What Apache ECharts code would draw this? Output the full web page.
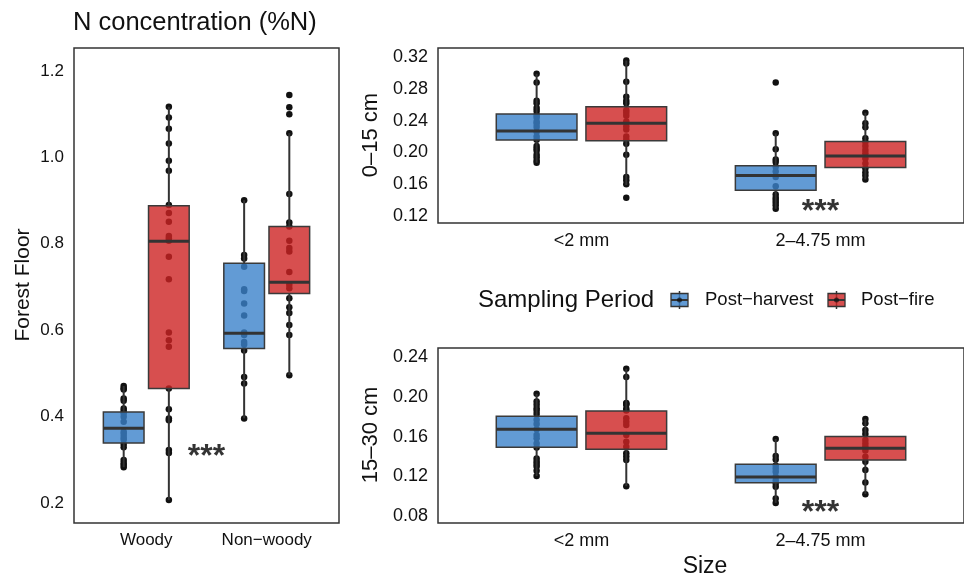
<!DOCTYPE html>
<html><head><meta charset="utf-8">
<script src="https://cdn.jsdelivr.net/npm/echarts@6/dist/echarts.min.js"></script>
<style>html,body{margin:0;padding:0;background:#fff}#c{width:964px;height:577px}</style>
</head><body><div id="c"></div>
<script>
// ---------------- data ----------------
const periods = ['Post−harvest', 'Post−fire'];
const ffCategories = ['Woody', 'Non−woody'];
const sizeCategories = ['<2 mm', '2–4.75 mm'];

const ffTicks = [0.2, 0.4, 0.6, 0.8, 1.0, 1.2];
const topTicks = [0.12, 0.16, 0.20, 0.24, 0.28, 0.32];
const botTicks = [0.08, 0.12, 0.16, 0.20, 0.24];

// box stats: [min, Q1, median, Q3, max] per category
const ffHarvestBox = [[0.283, 0.339, 0.373, 0.411, 0.471], [0.396, 0.558, 0.593, 0.755, 0.901]];
const ffFireBox    = [[0.207, 0.465, 0.806, 0.888, 1.117], [0.496, 0.685, 0.711, 0.840, 1.056]];
const topHarvestBox = [[0.187, 0.2156, 0.227, 0.2484, 0.299], [0.129, 0.1525, 0.171, 0.1831, 0.224]];
const topFireBox    = [[0.159, 0.2147, 0.2367, 0.2576, 0.3157], [0.166, 0.181, 0.1954, 0.2139, 0.250]];
const botHarvestBox = [[0.1203, 0.1493, 0.1674, 0.1805, 0.203], [0.0934, 0.1136, 0.1193, 0.1321, 0.1576]];
const botFireBox    = [[0.1102, 0.1472, 0.1633, 0.1858, 0.2282], [0.1022, 0.1365, 0.1482, 0.160, 0.1778]];

// individual observations per category
const ffHarvestWoody = [0.471, 0.466, 0.463, 0.442, 0.437, 0.419, 0.413, 0.408, 0.400, 0.388, 0.365, 0.360, 0.353, 0.347, 0.337, 0.329, 0.300, 0.293, 0.288, 0.283];
const ffHarvestNonWoody = [0.901, 0.774, 0.766, 0.747, 0.695, 0.691, 0.662, 0.634, 0.595, 0.589, 0.573, 0.567, 0.553, 0.492, 0.477, 0.396];
const ffFireWoody = [1.117, 1.092, 1.066, 1.032, 0.992, 0.969, 0.890, 0.871, 0.851, 0.818, 0.813, 0.807, 0.770, 0.718, 0.595, 0.577, 0.562, 0.465, 0.417, 0.396, 0.392, 0.323, 0.316, 0.207];
const ffFireNonWoody = [1.144, 1.116, 1.100, 1.056, 0.915, 0.849, 0.840, 0.807, 0.790, 0.782, 0.735, 0.705, 0.697, 0.674, 0.653, 0.640, 0.612, 0.589, 0.496];

const topHarvestFine = [0.299, 0.288, 0.265, 0.262, 0.256, 0.252, 0.247, 0.244, 0.239, 0.236, 0.232, 0.226, 0.220, 0.216, 0.208, 0.205, 0.202, 0.197, 0.194, 0.190, 0.187];
const topHarvestCoarse = [0.288, 0.224, 0.204, 0.191, 0.188, 0.182, 0.176, 0.169, 0.1575, 0.147, 0.143, 0.140, 0.137, 0.1335, 0.129];
const topFireFine = [0.3157, 0.312, 0.289, 0.270, 0.265, 0.262, 0.253, 0.250, 0.246, 0.239, 0.233, 0.229, 0.220, 0.216, 0.211, 0.197, 0.169, 0.165, 0.160, 0.143];
const topFireCoarse = [0.250, 0.2367, 0.2316, 0.2177, 0.213, 0.208, 0.203, 0.199, 0.1925, 0.186, 0.180, 0.175, 0.171, 0.166];

const botHarvestFine = [0.203, 0.1952, 0.192, 0.1886, 0.186, 0.1828, 0.1768, 0.1727, 0.1674, 0.1617, 0.1583, 0.153, 0.149, 0.138, 0.135, 0.1324, 0.130, 0.1257, 0.1203];
const botHarvestCoarse = [0.1576, 0.1405, 0.1371, 0.131, 0.128, 0.1247, 0.1196, 0.116, 0.113, 0.1096, 0.0978, 0.0934];
const botFireFine = [0.2282, 0.2198, 0.1937, 0.193, 0.1919, 0.188, 0.1862, 0.1785, 0.175, 0.1717, 0.1617, 0.1549, 0.1499, 0.1432, 0.140, 0.1365, 0.1102];
const botFireCoarse = [0.1778, 0.1734, 0.1667, 0.1627, 0.1566, 0.153, 0.1499, 0.146, 0.1398, 0.1347, 0.1264, 0.114, 0.1022];

// significance annotations [x position (category scale), y value]
const ffSig = [[1.5, 0.319]];
const topSig = [[2.0, 0.131]];
const botSig = [[2.0, 0.088]];

// ---------------- styling / layout ----------------
const FONT = '"Liberation Sans", Arial, Helvetica, sans-serif';
const TXT = '#111';
const EDGE = '#333';
const FILLS = ['rgba(59,130,203,0.8)', 'rgba(205,35,35,0.8)'];
const DODGE = 0.1875, BOXW = 0.3375;
const OFFS = [-DODGE, DODGE];

const panels = [
  {grid: {left: 74, top: 48, width: 265, height: 475}, yMin: 0.154, yMax: 1.253, ticks: ffTicks, dec: 1, lab: 17, cats: ffCategories, catFont: 17,
   boxes: [ffHarvestBox, ffFireBox], pts: [[ffHarvestWoody, ffHarvestNonWoody], [ffFireWoody, ffFireNonWoody]], sig: ffSig},
  {grid: {left: 438, top: 48, width: 533, height: 175}, yMin: 0.1112, yMax: 0.3314, ticks: topTicks, dec: 2, lab: 18, cats: sizeCategories, catFont: 18,
   boxes: [topHarvestBox, topFireBox], pts: [[topHarvestFine, topHarvestCoarse], [topFireFine, topFireCoarse]], sig: topSig},
  {grid: {left: 438, top: 348, width: 533, height: 175}, yMin: 0.0732, yMax: 0.249, ticks: botTicks, dec: 2, lab: 18, cats: sizeCategories, catFont: 18,
   boxes: [botHarvestBox, botFireBox], pts: [[botHarvestFine, botHarvestCoarse], [botFireFine, botFireCoarse]], sig: botSig}
];

function boxRender(offset, fill) {
  return function (params, api) {
    const x = api.value(0) + 1 + offset;
    const pMin = api.coord([x, api.value(1)]);
    const pQ1 = api.coord([x, api.value(2)]);
    const pMed = api.coord([x, api.value(3)]);
    const pQ3 = api.coord([x, api.value(4)]);
    const pMax = api.coord([x, api.value(5)]);
    const w = api.size([BOXW, 0])[0];
    const cx = pMed[0];
    return {type: 'group', children: [
      {type: 'line', shape: {x1: cx, y1: pQ1[1], x2: cx, y2: pMin[1]}, style: {stroke: EDGE, lineWidth: 2}},
      {type: 'line', shape: {x1: cx, y1: pQ3[1], x2: cx, y2: pMax[1]}, style: {stroke: EDGE, lineWidth: 2}},
      {type: 'rect', shape: {x: cx - w / 2, y: pQ3[1], width: w, height: pQ1[1] - pQ3[1]}, style: {fill: fill, stroke: '#3a3a3a', lineWidth: 1.5}},
      {type: 'line', shape: {x1: cx - w / 2, y1: pMed[1], x2: cx + w / 2, y2: pMed[1]}, style: {stroke: EDGE, lineWidth: 3}}
    ]};
  };
}

const grid = [], xAxis = [], yAxis = [], series = [];
panels.forEach((p, gi) => {
  grid.push(Object.assign({show: true, borderColor: EDGE, borderWidth: 1.5, backgroundColor: 'transparent'}, p.grid));
  xAxis.push({type: 'value', gridIndex: gi, min: 0.4, max: 2.6,
    axisLine: {show: false}, axisTick: {show: false}, splitLine: {show: false},
    axisLabel: {customValues: [1, 2], formatter: v => p.cats[Math.round(v) - 1] || '', margin: 9,
      fontFamily: FONT, fontSize: p.catFont, color: TXT}});
  yAxis.push({type: 'value', gridIndex: gi, min: p.yMin, max: p.yMax,
    axisLine: {show: false}, axisTick: {show: false}, splitLine: {show: false},
    axisLabel: {customValues: p.ticks, formatter: v => v.toFixed(p.dec), margin: 10,
      fontFamily: FONT, fontSize: p.lab, color: TXT}});
  // points (drawn below boxes)
  p.pts.forEach((groups, si) => {
    const data = [];
    groups.forEach((vals, ci) => vals.forEach(v => data.push([ci + 1 + OFFS[si], v])));
    series.push({type: 'scatter', name: periods[si], xAxisIndex: gi, yAxisIndex: gi, z: 1,
      symbolSize: 6.5, itemStyle: {color: '#111', opacity: 1}, data: data, silent: true});
  });
  // boxes
  p.boxes.forEach((box, si) => {
    series.push({type: 'custom', name: periods[si], xAxisIndex: gi, yAxisIndex: gi, z: 3,
      renderItem: boxRender(OFFS[si], FILLS[si]),
      encode: {x: 0, y: [1, 2, 3, 4, 5]},
      data: box.map((b, ci) => [ci].concat(b)), silent: true});
  });
  // significance
  series.push({type: 'scatter', xAxisIndex: gi, yAxisIndex: gi, z: 4, symbolSize: 1,
    itemStyle: {color: 'transparent'}, silent: true, data: p.sig,
    label: {show: true, position: 'inside', offset: [0, 5], formatter: '***', fontFamily: FONT, fontWeight: 'bold', fontSize: 32, color: '#000'}});
});

function legendIcon(cx, cy, fill) {
  return {type: 'group', children: [
    {type: 'line', shape: {x1: cx, y1: cy - 9, x2: cx, y2: cy + 9}, style: {stroke: EDGE, lineWidth: 1.5}},
    {type: 'rect', shape: {x: cx - 8.5, y: cy - 6.5, width: 17, height: 13}, style: {fill: fill, stroke: EDGE, lineWidth: 1.3}},
    {type: 'line', shape: {x1: cx - 8.5, y1: cy, x2: cx + 8.5, y2: cy}, style: {stroke: EDGE, lineWidth: 2}},
    {type: 'circle', shape: {cx: cx, cy: cy, r: 2.5}, style: {fill: 'rgba(17,17,17,0.7)'}}
  ]};
}

const graphic = [
  {type: 'text', x: 73, y: 23, style: {text: 'N concentration (%N)', font: '25.5px ' + FONT, fill: TXT, align: 'left', verticalAlign: 'middle'}},
  {type: 'text', x: 23.5, y: 285, rotation: Math.PI / 2, style: {text: 'Forest Floor', font: '21px ' + FONT, fill: TXT, align: 'center', verticalAlign: 'middle'}},
  {type: 'text', x: 371, y: 135, rotation: Math.PI / 2, style: {text: '0–15 cm', font: '22px ' + FONT, fill: TXT, align: 'center', verticalAlign: 'middle'}},
  {type: 'text', x: 371, y: 435, rotation: Math.PI / 2, style: {text: '15–30 cm', font: '22px ' + FONT, fill: TXT, align: 'center', verticalAlign: 'middle'}},
  {type: 'text', x: 705, y: 567, style: {text: 'Size', font: '23px ' + FONT, fill: TXT, align: 'center', verticalAlign: 'middle'}},
  {type: 'text', x: 478, y: 300, style: {text: 'Sampling Period', font: '24px ' + FONT, fill: TXT, align: 'left', verticalAlign: 'middle'}},
  legendIcon(679.5, 300, FILLS[0]),
  {type: 'text', x: 705, y: 300, style: {text: periods[0], font: '18.5px ' + FONT, fill: TXT, align: 'left', verticalAlign: 'middle'}},
  legendIcon(836.5, 300, FILLS[1]),
  {type: 'text', x: 861, y: 300, style: {text: periods[1], font: '18.5px ' + FONT, fill: TXT, align: 'left', verticalAlign: 'middle'}}
];

const chart = echarts.init(document.getElementById('c'), null, {renderer: 'canvas'});
chart.setOption({animation: false, backgroundColor: '#fff', textStyle: {fontFamily: FONT},
  grid, xAxis, yAxis, series, graphic});
</script></body></html>
